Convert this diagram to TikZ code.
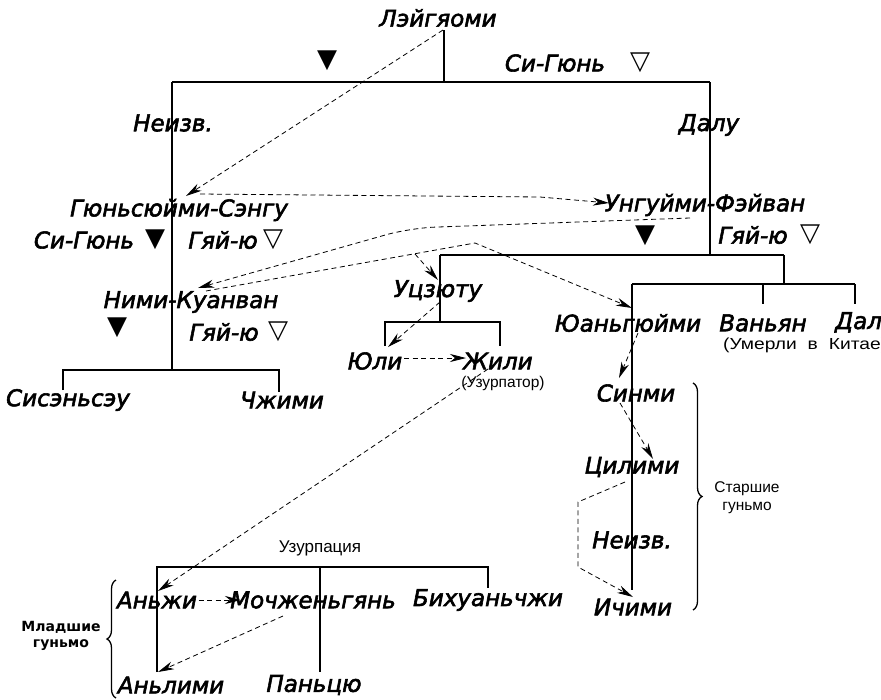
\documentclass[tikz,border=0pt]{standalone}
\usepackage{fontspec}
\setmainfont{DejaVu Sans}
\newfontfamily\namefont{DejaVu Sans Oblique}[FakeBold=2.5]
\newfontfamily\labfont{Liberation Sans}
\newfontfamily\widefont{Liberation Sans}[FakeStretch=1.2]
\usetikzlibrary{arrows.meta,decorations.pathreplacing}
\tikzset{
  nm/.style={font=\namefont\fontsize{23}{23}\selectfont, inner sep=0pt},
  lb/.style={font=\labfont\fontsize{15.5}{18}\selectfont, inner sep=0pt},
  tri/.style={font=\fontsize{26}{26}\selectfont, inner sep=0pt},
  ln/.style={line width=1.6pt},
  dsh/.style={line width=0.8pt, dash pattern=on 5pt off 3.5pt},
  dar/.style={dsh, -{Stealth[length=16pt,width=8pt,inset=5pt]}},
  brc/.style={line width=1.3pt, decorate, decoration={brace, amplitude=9pt}}
}
\begin{document}
\begin{tikzpicture}[x=1pt,y=-1pt]
\useasboundingbox (0,0) rectangle (881,699);
\clip (0,0) rectangle (881,699);
\fill[white] (0,0) rectangle (881,699);

% names
\node[nm] (lei) at (438,18) {Лэйгяоми};
\node[nm] (neizv1) at (173,123) {Неизв.};
\node[nm] (dalu) at (709,125) {Далу};
\node[nm] (gyun) at (179,210) {Гюньсюйми-Сэнгу};
\node[nm] (ungui) at (705,205) {Унгуйми-Фэйван};
\node[nm] (nimi) at (191,302) {Ними-Куанван};
\node[nm] (sis) at (68,400) {Сисэньсэу};
\node[nm] (chzh) at (282,400) {Чжими};
\node[nm] (utsz) at (438,291) {Уцзюту};
\node[nm] (yuli) at (375,361) {Юли};
\node[nm] (zhili) at (498,361) {Жили};
\node[lb] (uzur) at (503,383) {(Узурпатор)};
\node[nm] (yuan) at (628,323) {Юаньгюйми};
\node[nm] (vanyan) at (763,323) {Ваньян};
\node[nm,anchor=west] (dalu2) at (835,323) {Далу};
\node[lb,font=\widefont\fontsize{16}{18}\selectfont,anchor=west] (umerli) at (723,345) {\spaceskip=11pt (Умерли в Китае)};
\node[nm] (sinmi) at (636,393) {Синми};
\node[nm] (tsilimi) at (632,467) {Цилими};
\node[nm] (neizv2) at (632,540) {Неизв.};
\node[nm] (ichimi) at (633,607) {Ичими};
\node[lb,align=center] (starsh) at (747,498) {Старшие\\гуньмо};
\node[lb,font=\labfont\fontsize{17}{19}\selectfont] (uzurp) at (320,548) {Узурпация};
\node[nm] (anzhi) at (157,600) {Аньжи};
\node[nm] (moch) at (313,600) {Мочженьгянь};
\node[nm] (bih) at (488,600) {Бихуаньчжи};
\node[nm] (anlimi) at (171,685) {Аньлими};
\node[nm] (pants) at (314,685) {Паньцю};
\node[lb,font=\bfseries\fontsize{14}{16}\selectfont,align=center] (mladsh) at (61,636) {Младшие\\гуньмо};

% markers
\node[tri] (m1) at (327,61) {▼};
\node[nm] (sg1) at (555,63) {Си-Гюнь};
\node[tri] (m2) at (640,63) {▽};
\node[nm] (sg2) at (84,240) {Си-Гюнь};
\node[tri] (m3) at (155,240) {▼};
\node[nm] (gy1) at (223,240) {Гяй-ю};
\node[tri] (m4) at (273,240) {▽};
\node[tri] (m5) at (117,328) {▼};
\node[nm] (gy2) at (224,332) {Гяй-ю};
\node[tri] (m6) at (278,332) {▽};
\node[tri] (m7) at (645,236) {▼};
\node[nm] (gy3) at (753,235) {Гяй-ю};
\node[tri] (m8) at (810,235) {▽};

% tree coordinates
\coordinate (t0) at (444,30);
\coordinate (t1) at (444,82);
\coordinate (hL) at (172,82);
\coordinate (hR) at (710,82);
\coordinate (lb) at (172,370);
\coordinate (sisT) at (63,370);
\coordinate (sisB) at (63,390);
\coordinate (chT) at (279,370);
\coordinate (chB) at (279,392);
\coordinate (rb) at (710,255);
\coordinate (uT) at (440,255);
\coordinate (yT) at (784,255);
\coordinate (yB) at (784,284);
\coordinate (h3L) at (632,284);
\coordinate (h3R) at (855,284);
\coordinate (vaT) at (763,284);
\coordinate (vaB) at (763,304);
\coordinate (daB) at (855,304);
\coordinate (yuB) at (632,590);
\coordinate (uB) at (440,322);
\coordinate (yuliT) at (385,322);
\coordinate (yuliB) at (385,346);
\coordinate (zhT) at (500,322);
\coordinate (zhB) at (500,346);
\coordinate (azT) at (157,567);
\coordinate (azB) at (157,672);
\coordinate (mcT) at (320,567);
\coordinate (mcB) at (320,672);
\coordinate (bhT) at (488,567);
\coordinate (bhB) at (488,588);

\draw[ln] (t0) -- (t1);
\draw[ln] (hL) -- (hR);
\draw[ln] (hL) -- (lb);
\draw[ln] (sisB) -- (sisT) -- (chT) -- (chB);
\draw[ln] (hR) -- (rb);
\draw[ln] (uT) -- (yT);
\draw[ln] (yT) -- (yB);
\draw[ln] (h3L) -- (h3R);
\draw[ln] (vaT) -- (vaB);
\draw[ln] (h3R) -- (daB);
\draw[ln] (h3L) -- (yuB);
\draw[ln] (uT) -- (uB);
\draw[ln] (yuliB) -- (yuliT) -- (zhT) -- (zhB);
\draw[ln] (azB) -- (azT) -- (bhT) -- (bhB);
\draw[ln] (mcT) -- (mcB);

% dashed succession arrows
\coordinate (a1s) at (443,30);
\coordinate (a1e) at (186,196);
\draw[dar] (a1s) -- (a1e);

\coordinate (a2s) at (200,194);
\coordinate (a2m) at (540,197);
\coordinate (a2e) at (609,203);
\draw[dar] (a2s) -- (a2m) -- (a2e);

\coordinate (a3s) at (690,218);
\coordinate (a3m) at (410,228);
\coordinate (a3e) at (198,288);
\draw[dar, rounded corners=25pt] (a3s) -- (a3m) -- (a3e);

\coordinate (a4s) at (206,291);
\coordinate (a4p) at (475,243);
\coordinate (a4e) at (632,308);
\draw[dar] (a4s) -- (a4p) -- (a4e);

\coordinate (a5s) at (415,254);
\coordinate (a5e) at (438,280);
\draw[dar] (a5s) -- (a5e);

\coordinate (a6s) at (440,302);
\coordinate (a6e) at (388,347);
\draw[dar] (a6s) -- (a6e);

\coordinate (a7s) at (404,358);
\coordinate (a7e) at (466,358);
\draw[dar] (a7s) -- (a7e);

\coordinate (a8s) at (488,369);
\coordinate (a8e) at (158,591);
\draw[dar] (a8s) -- (a8e);

\coordinate (a9s) at (190,600);
\coordinate (a9e) at (241,600);
\draw[dar] (a9s) -- (a9e);

\coordinate (a10s) at (283,616);
\coordinate (a10e) at (158,672);
\draw[dar] (a10s) -- (a10e);

\coordinate (a11s) at (638,333);
\coordinate (a11e) at (619,378);
\draw[dar] (a11s) -- (a11e);

\coordinate (a12s) at (620,403);
\coordinate (a12e) at (653,459);
\draw[dar] (a12s) -- (a12e);

\coordinate (a13s) at (625,482);
\coordinate (a13a) at (578,502);
\coordinate (a13b) at (578,567);
\coordinate (a13e) at (633,597);
\draw[dar] (a13s) -- (a13a) -- (a13b) -- (a13e);

% braces
\draw[brc] (693,383) -- (693,610);
\draw[brc] (116,698) -- (116,580);
\end{tikzpicture}
\end{document}
